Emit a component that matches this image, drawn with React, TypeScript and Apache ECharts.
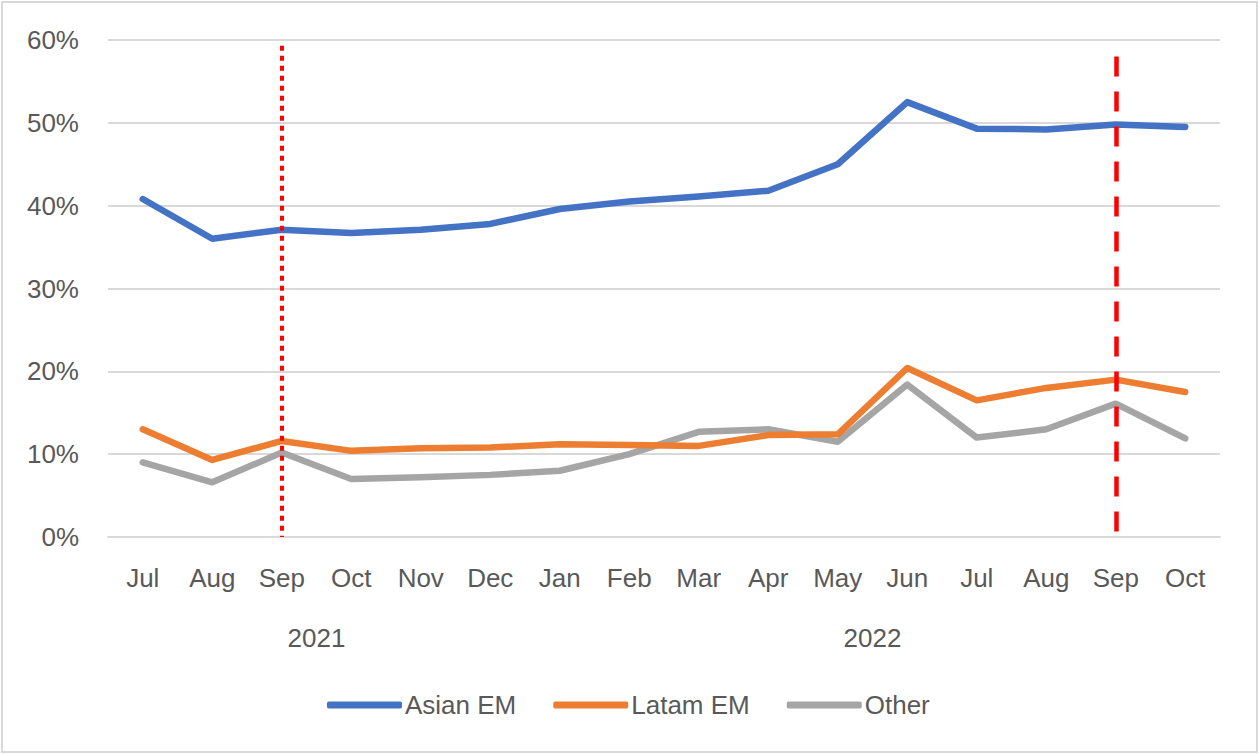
import React, { useEffect, useRef } from "react";
import * as echarts from "echarts";

const months = ["Jul", "Aug", "Sep", "Oct", "Nov", "Dec", "Jan", "Feb", "Mar", "Apr", "May", "Jun", "Jul", "Aug", "Sep", "Oct"];
const years = [
  { label: "2021", from: 0, to: 5 },
  { label: "2022", from: 6, to: 15 },
];
const asianEM = [40.8, 36.0, 37.1, 36.7, 37.1, 37.8, 39.6, 40.5, 41.1, 41.8, 45.0, 52.5, 49.3, 49.2, 49.8, 49.5];
const latamEM = [13.0, 9.3, 11.6, 10.4, 10.7, 10.8, 11.2, 11.1, 11.0, 12.3, 12.4, 20.4, 16.5, 18.0, 19.0, 17.5];
const other = [9.0, 6.6, 10.2, 7.0, 7.2, 7.5, 8.0, 10.0, 12.7, 13.0, 11.5, 18.4, 12.0, 13.0, 16.1, 11.9];
const yTicks = [0, 10, 20, 30, 40, 50, 60];
const markerLines = [
  { index: 2, top: 59.3, style: "dotted" },
  { index: 14, top: 58.0, style: "dashed" },
];

const W = 1259;
const H = 754;
const GRID = { left: 108, right: 39, top: 40, bottom: 217 };
const FONT = "Liberation Sans";
const TEXT = "#595959";

export default function App() {
  const ref = useRef<HTMLDivElement>(null);
  useEffect(() => {
    document.body.style.margin = "0";
    if (!ref.current) return;
    const chart = echarts.init(ref.current, undefined, { renderer: "svg" });
    const plotW = W - GRID.left - GRID.right;
    const catW = plotW / months.length;
    const option: any = {
      animation: false,
      backgroundColor: "#ffffff",
      textStyle: { fontFamily: FONT },
      grid: { ...GRID, containLabel: false },
      legend: {
        bottom: 31,
        left: 322,
        itemWidth: 75,
        itemHeight: 7,
        itemGap: 37,
        icon: "roundRect",
        textStyle: { fontFamily: FONT, fontSize: 26, color: TEXT, padding: [0, 0, 0, -2] },
        data: ["Asian EM", "Latam EM", "Other"],
      },
      xAxis: {
        type: "category",
        data: months,
        boundaryGap: true,
        axisLine: { show: true, lineStyle: { color: "#d9d9d9", width: 2 } },
        axisTick: { show: false },
        axisLabel: { interval: 0, margin: 28, fontSize: 26, color: TEXT, fontFamily: FONT },
      },
      yAxis: {
        type: "value",
        min: yTicks[0],
        max: yTicks[yTicks.length - 1],
        interval: 10,
        axisLine: { show: false },
        axisTick: { show: false },
        axisLabel: { margin: 29, fontSize: 26, color: TEXT, fontFamily: FONT, formatter: (v: number) => v + "%" },
        splitLine: { lineStyle: { color: "#d9d9d9", width: 2 } },
      },
      series: [
        {
          name: "Asian EM",
          type: "line",
          data: asianEM,
          symbol: "none",
          color: "#4472c4",
          lineStyle: { width: 6.5, cap: "round", join: "round" },
          z: 3,
        },
        {
          name: "Latam EM",
          type: "line",
          data: latamEM,
          symbol: "none",
          color: "#ed7d31",
          lineStyle: { width: 6.5, cap: "round", join: "round" },
          z: 3,
        },
        {
          name: "Other",
          type: "line",
          data: other,
          symbol: "none",
          color: "#a5a5a5",
          lineStyle: { width: 6.5, cap: "round", join: "round" },
          z: 2,
        },
        {
          name: "markers",
          type: "line",
          data: [],
          z: 5,
          markLine: {
            silent: true,
            symbol: ["none", "none"],
            label: { show: false },
            emphasis: { disabled: true },
            data: markerLines.map((m) => [
              {
                coord: [m.index, m.top],
                lineStyle: {
                  color: "#ff0000",
                  width: m.style === "dotted" ? 4 : 4.5,
                  type: m.style === "dotted" ? [5, 5] : [20, 15],
                  cap: "butt",
                },
              },
              { coord: [m.index, 0] },
            ]),
          },
        },
      ],
      graphic: [
        {
          type: "rect",
          shape: { x: 2, y: 2, width: W - 4, height: H - 4 },
          style: { fill: "none", stroke: "#d9d9d9", lineWidth: 2 },
          silent: true,
        },
        ...years.map((y) => ({
          type: "text",
          x: GRID.left + ((y.from + y.to + 1) / 2) * catW,
          y: 638,
          style: {
            text: y.label,
            fontFamily: FONT,
            fontSize: 26,
            fill: TEXT,
            textAlign: "center",
            textVerticalAlign: "middle",
          },
        })),
      ],
    };
    chart.setOption(option);
    return () => chart.dispose();
  }, []);
  return <div ref={ref} style={{ width: W, height: H }} />;
}
